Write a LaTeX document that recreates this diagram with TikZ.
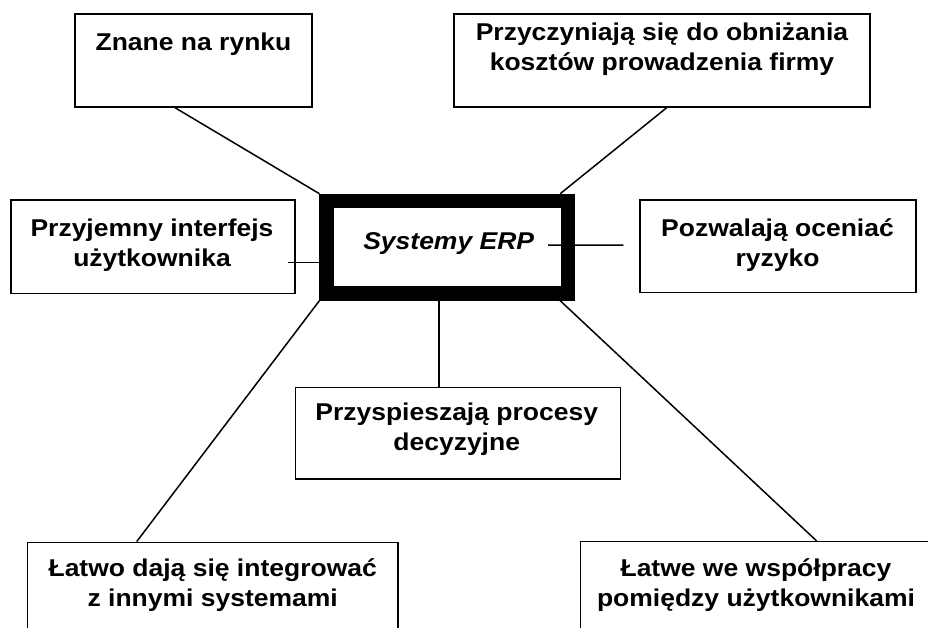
\documentclass[tikz,border=0pt]{standalone}
\usepackage{fontspec}
\setmainfont[FakeStretch=1.09]{Liberation Sans}
\usetikzlibrary{calc}
\begin{document}
\begin{tikzpicture}[x=1pt,y=-1pt,
  box/.style={draw=black, line width=1.4pt, rectangle, inner sep=0pt, fill=white},
  txt/.style={inner sep=0pt, align=center, anchor=base, font=\fontsize{24.3}{30}\selectfont\bfseries},
  conn/.style={draw=black, line width=1.5pt}]
\useasboundingbox (0,0) rectangle (928,628);
% boxes
\node[box, minimum width=237pt, minimum height=93pt] (zn) at (193.5,60.5) {};
\node[box, minimum width=416pt, minimum height=93pt] (pr) at (662,60.5) {};
\node[box, minimum width=284pt, minimum height=93.3pt] (pi) at (153,246.7) {};
\node[box, minimum width=276pt, minimum height=92.7pt] (pz) at (778,246.3) {};
\node[box, minimum width=325pt, minimum height=91.7pt] (ps) at (458.2,433.2) {};
\node[box, minimum width=370.7pt, minimum height=93pt] (lb) at (212.7,588.8) {};
\node[box, minimum width=350.6pt, minimum height=93pt] (rb) at (756,588.2) {};
\node[draw=black, line width=14.5pt, rectangle, inner sep=0pt, fill=white,
      minimum width=241.3pt, minimum height=92.5pt] (erp) at (447.3,247.2) {};
% texts (base anchor = baseline of the last line)
\node[txt] (tzn) at (193.5,50.7) {Znane na rynku};
\node[txt] (tpr) at (662,70.7) {Przyczyniają się do obniżania\\kosztów prowadzenia firmy};
\node[txt] (tpi) at (152,266) {Przyjemny interfejs\\użytkownika};
\node[txt] (tpz) at (777.5,266) {Pozwalają oceniać\\ryzyko};
\node[txt, font=\fontsize{24.3}{30}\selectfont\bfseries\itshape] (terp) at (448.7,250) {Systemy ERP};
\node[txt] (tps) at (456.7,450.7) {Przyspieszają procesy\\decyzyjne};
\node[txt] (tlb) at (212.7,606.8) {Łatwo dają się integrować\\z innymi systemami};
\node[txt] (trb) at (756,606) {Łatwe we współpracy\\pomiędzy użytkownikami};
% connector end points
\coordinate (c1) at ($(zn.south)+(-18.5,0)$);
\coordinate (c2) at ($(pr.south)+(4.7,0)$);
\coordinate (c3) at ($(erp.north east)+(-15,0)$);
\coordinate (c4) at ($(pi.east)+(-8,16)$);
\coordinate (c5) at ($(erp.east)+(-27,-2)$);
\coordinate (c6) at ($(pz.west)+(-16,-1.3)$);
\coordinate (c7) at ($(ps.north)+(-19,0)$);
\coordinate (c8) at ($(lb.north)+(-76,0)$);
\coordinate (c9) at ($(erp.south east)+(-15,0)$);
\coordinate (c10) at ($(rb.north)+(60.7,0)$);
% connectors
\draw[conn] (c1) -- (erp.north west);
\draw[conn] (c2) -- (c3);
\draw[conn] (c4) -- (c4 -| erp.west);
\draw[conn] (c5) -- (c6);
\draw[conn] (c7) -- (c7 |- erp.south);
\draw[conn] (erp.south west) -- (c8);
\draw[conn] (c9) -- (c10);
\end{tikzpicture}
\end{document}
